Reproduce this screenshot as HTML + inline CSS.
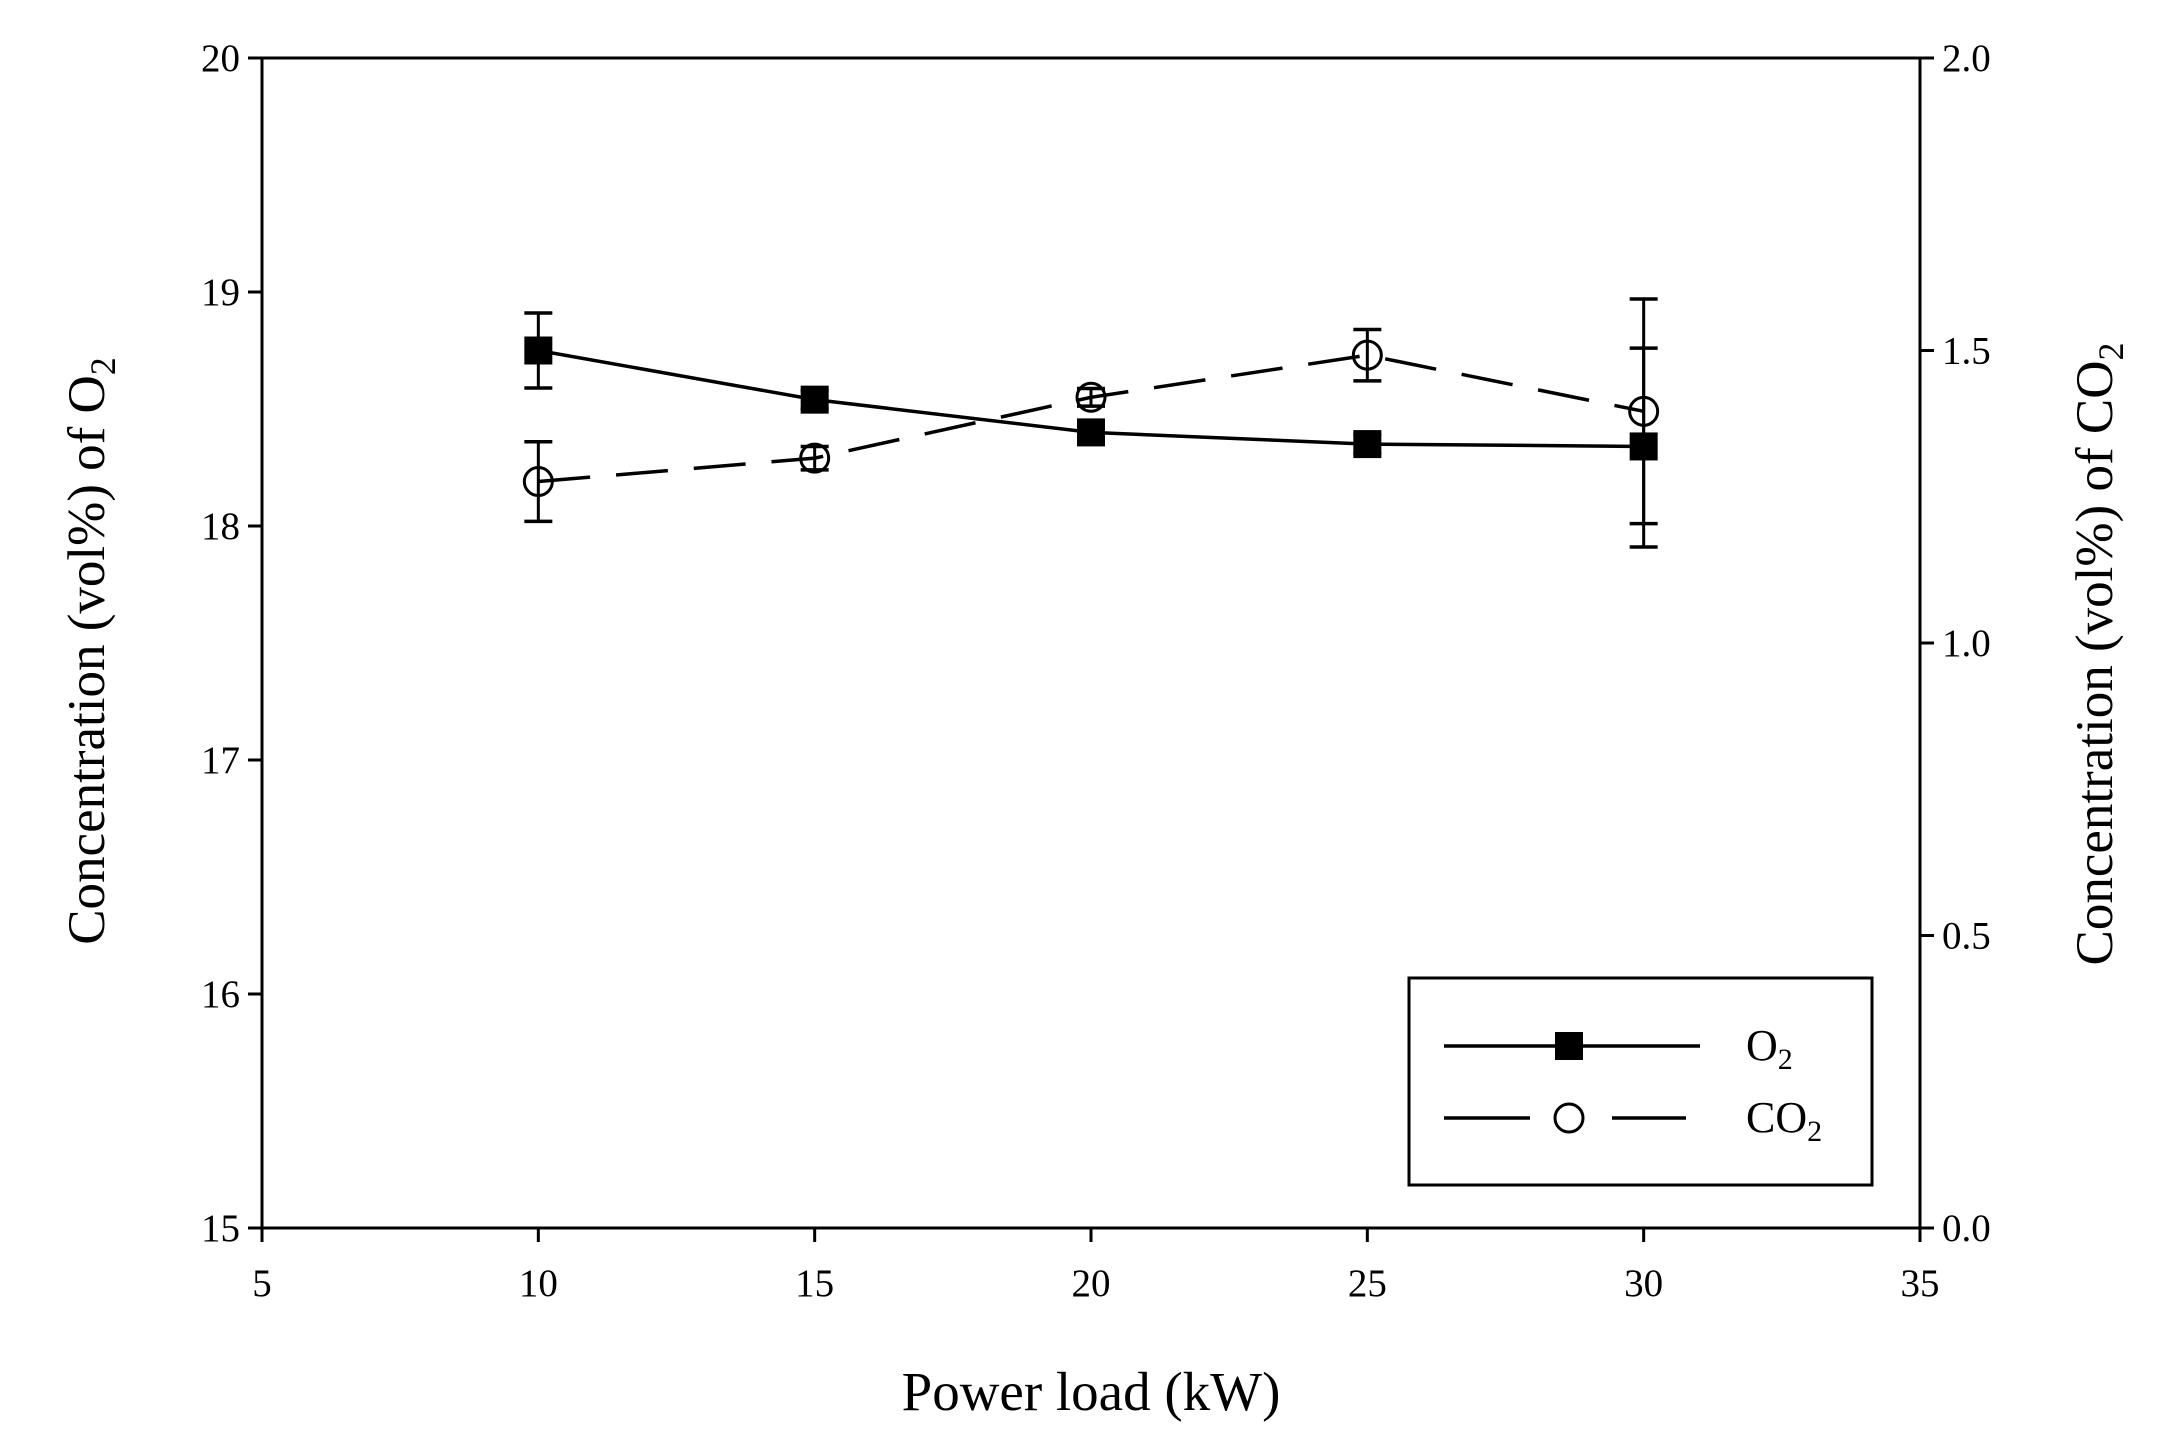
<!DOCTYPE html>
<html><head><meta charset="utf-8"><style>
html,body{margin:0;padding:0;background:#fff;}
svg{display:block;font-family:"Liberation Serif",serif;}
</style></head><body>
<svg id="chart" width="2179" height="1437" viewBox="0 0 2179 1437">
<g id="axes"></g>
<g id="series"></g>
<text x="1091" y="1410" font-size="55" text-anchor="middle">Power load (kW)</text>
<text transform="translate(104,651) rotate(-90)" font-size="53" text-anchor="middle">Concentration (vol%) of O<tspan font-size="36" dy="11">2</tspan></text>
<text transform="translate(2112,654) rotate(-90)" font-size="53" text-anchor="middle">Concentration (vol%) of CO<tspan font-size="36" dy="11">2</tspan></text>
<g>
<rect x="1409" y="978" width="463" height="207" fill="#fff" stroke="#000" stroke-width="3"/>
<g>
<line x1="1444" y1="1046" x2="1700" y2="1046" stroke="#000" stroke-width="3.5"/>
<rect x="1555" y="1032" width="28" height="28" fill="#000"/>
<text x="1746" y="1060" font-size="44">O<tspan font-size="30" dy="9">2</tspan></text>
</g>
<g>
<line x1="1444" y1="1118" x2="1530" y2="1118" stroke="#000" stroke-width="3.5"/>
<line x1="1612" y1="1118" x2="1686" y2="1118" stroke="#000" stroke-width="3.5"/>
<circle cx="1569" cy="1118" r="14" fill="#fff" stroke="#000" stroke-width="3"/>
<text x="1746" y="1132" font-size="44">CO<tspan font-size="30" dy="9">2</tspan></text>
</g>
</g>
</svg>
<script>
const xValues = [10, 15, 20, 25, 30];
const o2Values = [18.75, 18.54, 18.40, 18.35, 18.34];
const o2Upper = [18.91, 18.58, 18.44, 18.39, 18.97];
const o2Lower = [18.59, 18.50, 18.36, 18.31, 17.91];
const co2Values = [1.276, 1.316, 1.42, 1.492, 1.396];
const co2Upper = [1.344, 1.336, 1.435, 1.536, 1.504];
const co2Lower = [1.208, 1.296, 1.405, 1.448, 1.204];
const xTicks = [5, 10, 15, 20, 25, 30, 35];
const leftTicks = [15, 16, 17, 18, 19, 20];
const rightTicks = ['0.0', '0.5', '1.0', '1.5', '2.0'];

const NS = 'http://www.w3.org/2000/svg';
const L = 262, R = 1920, T = 58, B = 1228;
const xs = v => L + (v - 5) / 30 * (R - L);
const yl = v => B - (v - 15) / 5 * (B - T);
const yr = v => B - v / 2 * (B - T);
function mk(tag, attrs, parent) {
  const e = document.createElementNS(NS, tag);
  for (const k in attrs) e.setAttribute(k, attrs[k]);
  parent.appendChild(e);
  return e;
}
const axes = document.getElementById('axes');
const ser = document.getElementById('series');
let e;
e = mk('rect', {x: L, y: T, width: R - L, height: B - T, fill: 'none', stroke: '#000', 'stroke-width': 3}, axes);


xTicks.forEach(t => {
  const x = xs(t);
  e = mk('line', {x1: x, y1: B, x2: x, y2: B + 14, stroke: '#000', 'stroke-width': 3}, axes);
  
  
  e = mk('text', {x: x, y: B + 68, 'font-size': 39, 'text-anchor': 'middle'}, axes);
  e.textContent = t;
  
  
});
leftTicks.forEach(t => {
  const y = yl(t);
  e = mk('line', {x1: L - 14, y1: y, x2: L, y2: y, stroke: '#000', 'stroke-width': 3}, axes);
  
  
  e = mk('text', {x: L - 22, y: y + 13, 'font-size': 39, 'text-anchor': 'end'}, axes);
  e.textContent = t;
  
  
});
rightTicks.forEach(t => {
  const y = yr(parseFloat(t));
  e = mk('line', {x1: R, y1: y, x2: R + 14, y2: y, stroke: '#000', 'stroke-width': 3}, axes);
  
  
  e = mk('text', {x: R + 22, y: y + 13, 'font-size': 39, 'text-anchor': 'start'}, axes);
  e.textContent = t;
  
  
});
e = mk('polyline', {points: xValues.map((x, i) => xs(x) + ',' + yr(co2Values[i])).join(' '), fill: 'none', stroke: '#000', 'stroke-width': 3.5, 'stroke-dasharray': '52,26'}, ser);


e = mk('polyline', {points: xValues.map((x, i) => xs(x) + ',' + yl(o2Values[i])).join(' '), fill: 'none', stroke: '#000', 'stroke-width': 3.5}, ser);


function errbar(x, y1, y2, name) {
  const g = mk('g', {}, ser);
  
  
  mk('line', {x1: x, y1: y1, x2: x, y2: y2, stroke: '#000', 'stroke-width': 3}, g);
  mk('line', {x1: x - 14, y1: y1, x2: x + 14, y2: y1, stroke: '#000', 'stroke-width': 3.5}, g);
  mk('line', {x1: x - 14, y1: y2, x2: x + 14, y2: y2, stroke: '#000', 'stroke-width': 3.5}, g);
}
xValues.forEach((xv, i) => {
  const x = xs(xv);
  errbar(x, yr(co2Upper[i]), yr(co2Lower[i]), 'co2-error-bar');
  errbar(x, yl(o2Upper[i]), yl(o2Lower[i]), 'o2-error-bar');
});
xValues.forEach((xv, i) => {
  const x = xs(xv);
  e = mk('circle', {cx: x, cy: yr(co2Values[i]), r: 14, fill: 'none', stroke: '#000', 'stroke-width': 3}, ser);
  
  
  e = mk('rect', {x: x - 14, y: yl(o2Values[i]) - 14, width: 28, height: 28, fill: '#000'}, ser);
  
  
});
</script>
</body></html>
